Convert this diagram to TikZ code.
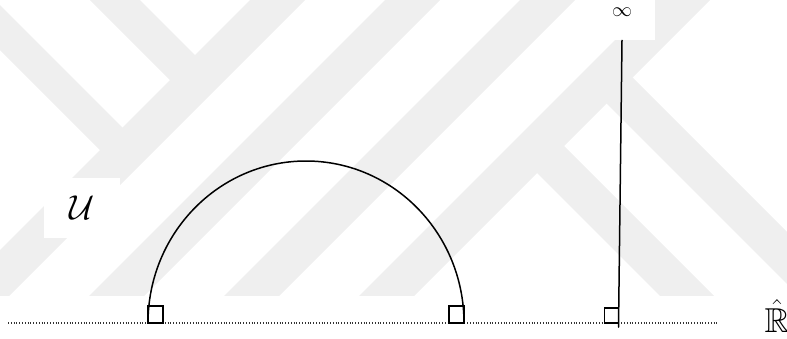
\documentclass[tikz,border=0pt]{standalone}
\usepackage{amssymb}
\usepackage{tikz}
\usetikzlibrary{calc}
\definecolor{wmgray}{HTML}{EFEFEF}
\definecolor{axisgray}{HTML}{333333}
\tikzset{
  geo/.style={
    line width=0.75pt, draw=black, line cap=round
  },
  rmark/.style={
    line width=0.55pt, draw=black
  },
  axisline/.style={
    line width=0.55pt, draw=axisgray, dash pattern=on 0.5pt off 0.9pt
  },
  wmark/.style={
    fill=wmgray, draw=none
  },
  lblbox/.style={
    fill=white, inner sep=0pt, text=black
  },
}

\begin{document}
\begin{tikzpicture}[x=0.5pt, y=-0.5pt]
\useasboundingbox (0,0) rectangle (787,338);

% faint watermark bands
\begin{scope}
  \clip (0,0) rectangle (787,295);
  \foreach \c in {250, 385, 520, 655} {
    \fill[wmark] ({\c+10},-10) -- ({\c+65},-10) -- ({\c-245},300) -- ({\c-300},300) -- cycle;
  }
  \fill[wmark] (-100,-50) -- (115,165) -- (137.5,142.5) -- (-100,-95) -- cycle;
  \fill[wmark] (70,-20) -- (185,95) -- (210,70) -- (120,-20) -- cycle;
  \fill[wmark] (522,158) -- (549,131) -- (818,400) -- (764,400) -- cycle;
  \fill[wmark] (591.5,88.5) -- (617.5,62.5) -- (955,400) -- (903,400) -- cycle;
\end{scope}

% labels
\node[lblbox, minimum width=32.5pt, text height=8pt, text depth=12pt] (inf) at (622,20) {$\infty$};
\node[lblbox, minimum width=38pt, minimum height=30pt] (uhp) at (82,208) {\LARGE$\mathcal{U}$};
\node[inner sep=0pt] (rhat) at (777,316) {\LARGE$\hat{\mathbb{R}}$};

% boundary line
\coordinate (axL) at (8,323);
\coordinate (axR) at (719,323);
\draw[axisline] (axL) -- (axR);

% geodesics
\coordinate (footA) at (148,323);
\coordinate (footB) at (464,323);
\coordinate (footC) at (618.5,323);
\draw[geo] (footA) arc[start angle=180, end angle=360, x radius=158, y radius=162];
\draw[geo] (inf.south) -- ($(footC)+(0,4)$);

% right angles
\draw[rmark] (footA) rectangle +(15,-17);
\draw[rmark] (footB) rectangle +(-15,-17);
\draw[rmark] (footC) rectangle +(-14,-15);

\end{tikzpicture}
\end{document}
